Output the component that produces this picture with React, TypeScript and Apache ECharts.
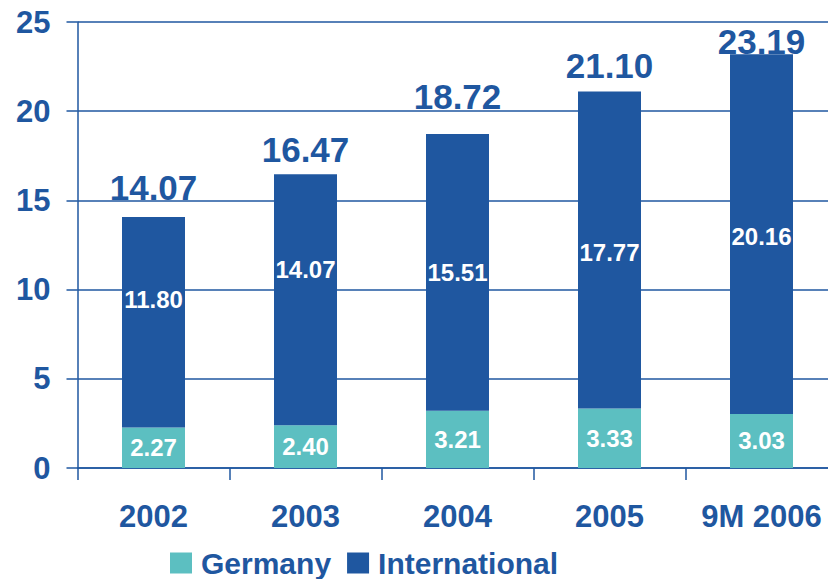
import React, { useEffect, useRef } from "react";
import * as echarts from "echarts";

const categories = ["2002", "2003", "2004", "2005", "9M 2006"];
const germany = [2.27, 2.4, 3.21, 3.33, 3.03];
const international = [11.8, 14.07, 15.51, 17.77, 20.16];
const totals = [14.07, 16.47, 18.72, 21.1, 23.19];
const yTicks = [0, 5, 10, 15, 20, 25];

const BLUE = "#1f57a0";
const TEAL = "#5cbfc1";
const FONT = "'Liberation Sans', Arial, Helvetica, sans-serif";

// label vertical nudges (px), as in the original artwork
const intLabelShift = [-23, -30, 0, 2, 2];
const totalLabelShift = [-29, -25, -38, -26, -13];

export default function App() {
  const ref = useRef<HTMLDivElement>(null);
  useEffect(() => {
    if (!ref.current) return;
    const chart = echarts.init(ref.current, undefined, { renderer: "svg" });
    chart.setOption({
      animation: false,
      backgroundColor: "#ffffff",
      textStyle: { fontFamily: FONT },
      grid: { left: 77.5, right: 0.5, top: 22, bottom: 111 },
      legend: {
        left: 165,
        top: 543,
        itemWidth: 22,
        itemHeight: 21,
        itemGap: 16,
        icon: "rect",
        data: ["Germany", "International"],
        textStyle: {
          color: BLUE,
          fontSize: 30,
          fontWeight: "bold",
          fontFamily: FONT,
          padding: [0, 0, 0, 4],
        },
      },
      xAxis: {
        type: "category",
        data: categories,
        axisLine: { show: true, lineStyle: { color: BLUE, width: 1.5 } },
        axisTick: { show: true, length: 12, lineStyle: { color: BLUE, width: 1.5 } },
        axisLabel: {
          color: BLUE,
          fontSize: 31,
          fontWeight: "bold",
          fontFamily: FONT,
          margin: 33,
          interval: 0,
        },
        splitLine: { show: false },
      },
      yAxis: {
        type: "value",
        min: yTicks[0],
        max: yTicks[yTicks.length - 1],
        interval: 5,
        axisLine: { show: true, lineStyle: { color: BLUE, width: 1.5 } },
        axisTick: { show: true, length: 11, lineStyle: { color: BLUE, width: 1.5 } },
        axisLabel: {
          color: BLUE,
          fontSize: 31,
          fontWeight: "bold",
          fontFamily: FONT,
          margin: 27,
        },
        splitLine: { show: true, lineStyle: { color: BLUE, width: 1.5 } },
      },
      series: [
        {
          name: "Germany",
          type: "bar",
          stack: "total",
          barWidth: 63,
          itemStyle: { color: TEAL },
          data: germany,
          label: {
            show: true,
            position: "inside",
            color: "#ffffff",
            fontSize: 24,
            fontWeight: "bold",
            fontFamily: FONT,
            formatter: (p: any) => p.value.toFixed(2),
          },
        },
        {
          name: "International",
          type: "bar",
          stack: "total",
          barWidth: 63,
          itemStyle: { color: BLUE },
          data: international.map((v, i) => ({
            value: v,
            label: { offset: [0, intLabelShift[i]] },
          })),
          label: {
            show: true,
            position: "inside",
            color: "#ffffff",
            fontSize: 24,
            fontWeight: "bold",
            fontFamily: FONT,
            formatter: (p: any) => Number(p.value).toFixed(2),
          },
        },
        {
          name: "Total",
          type: "scatter",
          symbolSize: 0,
          silent: true,
          itemStyle: { opacity: 1, color: BLUE },
          data: totals.map((v, i) => ({
            value: [i, v],
            label: { offset: [0, totalLabelShift[i]] },
          })),
          label: {
            show: true,
            position: "inside",
            color: BLUE,
            opacity: 1,
            fontSize: 35,
            fontWeight: "bold",
            fontFamily: FONT,
            formatter: (p: any) => Number(p.value[1]).toFixed(2),
          },
        },
      ],
    });
    return () => chart.dispose();
  }, []);
  return (
    <div
      style={{
        position: "fixed",
        left: 0,
        top: 0,
        width: 828,
        height: 579,
        overflow: "hidden",
      }}
    >
      <div ref={ref} style={{ width: 838, height: 579 }} />
    </div>
  );
}
